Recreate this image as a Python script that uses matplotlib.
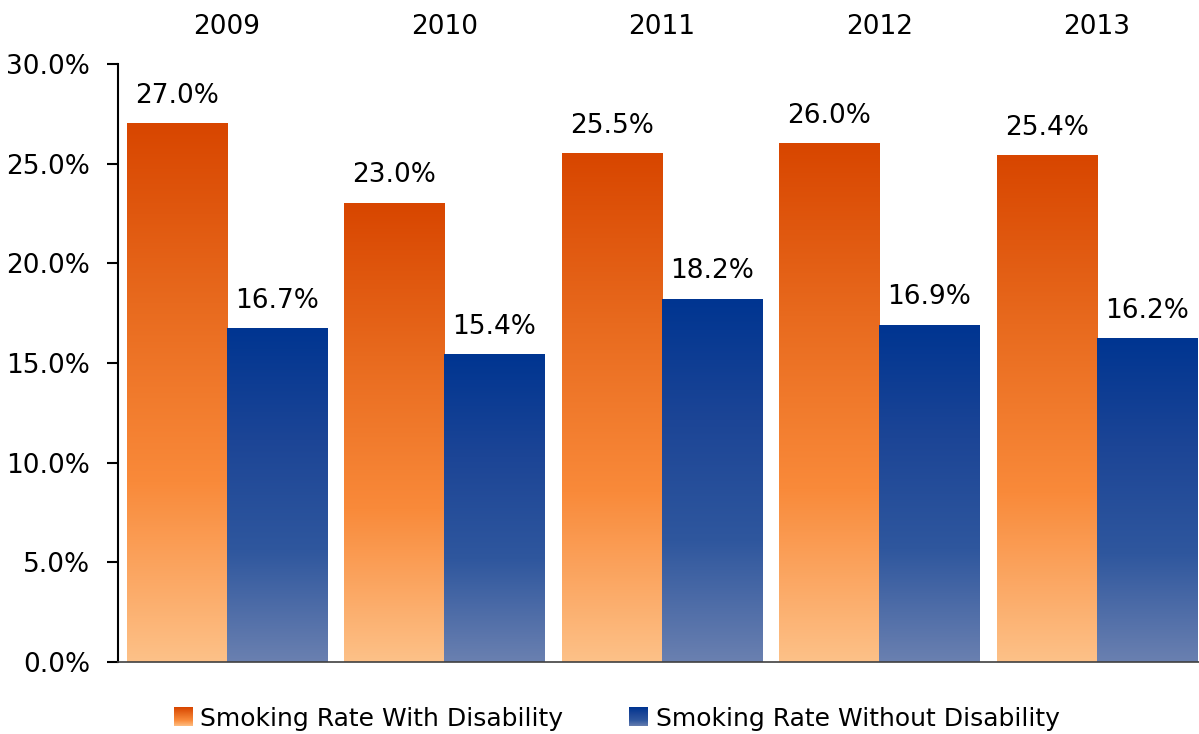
import numpy as np
import matplotlib.pyplot as plt
from matplotlib.colors import LinearSegmentedColormap
from matplotlib.legend_handler import HandlerBase
from matplotlib.patches import Rectangle

years = ['2009', '2010', '2011', '2012', '2013']
with_disability = [27.0, 23.0, 25.5, 26.0, 25.4]
without_disability = [16.7, 15.4, 18.2, 16.9, 16.2]
series_names = ['Smoking Rate With Disability', 'Smoking Rate Without Disability']

# gradient colours, bottom -> top
orange_cmap = LinearSegmentedColormap.from_list('orange', ['#FDC188', '#F98A3A', '#E86A1E', '#D84600'])
blue_cmap = LinearSegmentedColormap.from_list('blue', ['#6A80B0', '#2F579E', '#1C4596', '#003591'])

plt.rcParams['font.family'] = ['DejaVu Sans']

fig = plt.figure(figsize=(11.99, 7.34), dpi=100)
# axes runs a little past the right edge of the figure, like the original
ax = fig.add_axes([0.0984, 0.098, 0.907, 0.815])

x = np.arange(len(years))
width = 0.46
grad = np.linspace(0, 1, 256).reshape(-1, 1)


def gradient_bar(ax, xc, h, cmap):
    ax.imshow(grad, cmap=cmap, origin='lower', aspect='auto',
              extent=(xc - width / 2, xc + width / 2, 0, h), zorder=2)
    ax.text(xc, h + 0.75, f'{h:.1f}%', ha='center', va='bottom', fontsize=19)


for i in range(len(years)):
    gradient_bar(ax, x[i] - width / 2, with_disability[i], orange_cmap)
    gradient_bar(ax, x[i] + width / 2, without_disability[i], blue_cmap)

ax.set_xlim(-0.5, len(years) - 0.5)
ax.set_ylim(0, 30)
ax.set_yticks(np.arange(0, 31, 5))
ax.set_yticklabels([f'{v:.1f}%' for v in np.arange(0, 31, 5)], fontsize=19)
ax.tick_params(axis='y', length=8, width=1.5, color='black', pad=12)

ax.xaxis.tick_top()
ax.set_xticks(x)
ax.set_xticklabels(years, fontsize=19)
ax.tick_params(axis='x', length=0, pad=17)

for s in ['top', 'right']:
    ax.spines[s].set_visible(False)
ax.spines['left'].set_linewidth(1.5)
ax.spines['bottom'].set_color('#404040')
ax.spines['bottom'].set_linewidth(1.2)


class GradientHandler(HandlerBase):
    def __init__(self, cmap):
        super().__init__()
        self.cmap = cmap

    def create_artists(self, legend, orig_handle, xdescent, ydescent, width, height, fontsize, trans):
        size = min(width, height)
        x0 = -xdescent + width - size
        y0 = -ydescent + (height - size) / 2
        n = 20
        arts = []
        for k in range(n):
            r = Rectangle((x0, y0 + size * k / n), size, size / n + 0.3,
                          facecolor=self.cmap(k / (n - 1)), edgecolor='none', transform=trans)
            arts.append(r)
        return arts


h1 = Rectangle((0, 0), 1, 1)
h2 = Rectangle((0, 0), 1, 1)
fig.legend([h1, h2], series_names, loc='lower center', bbox_to_anchor=(0.514, -0.026),
           ncol=2, frameon=False, fontsize=18, handlelength=0.8, handleheight=0.8,
           handletextpad=0.3, columnspacing=2.6,
           handler_map={h1: GradientHandler(orange_cmap), h2: GradientHandler(blue_cmap)})

fig.savefig('out.png', dpi=100)
